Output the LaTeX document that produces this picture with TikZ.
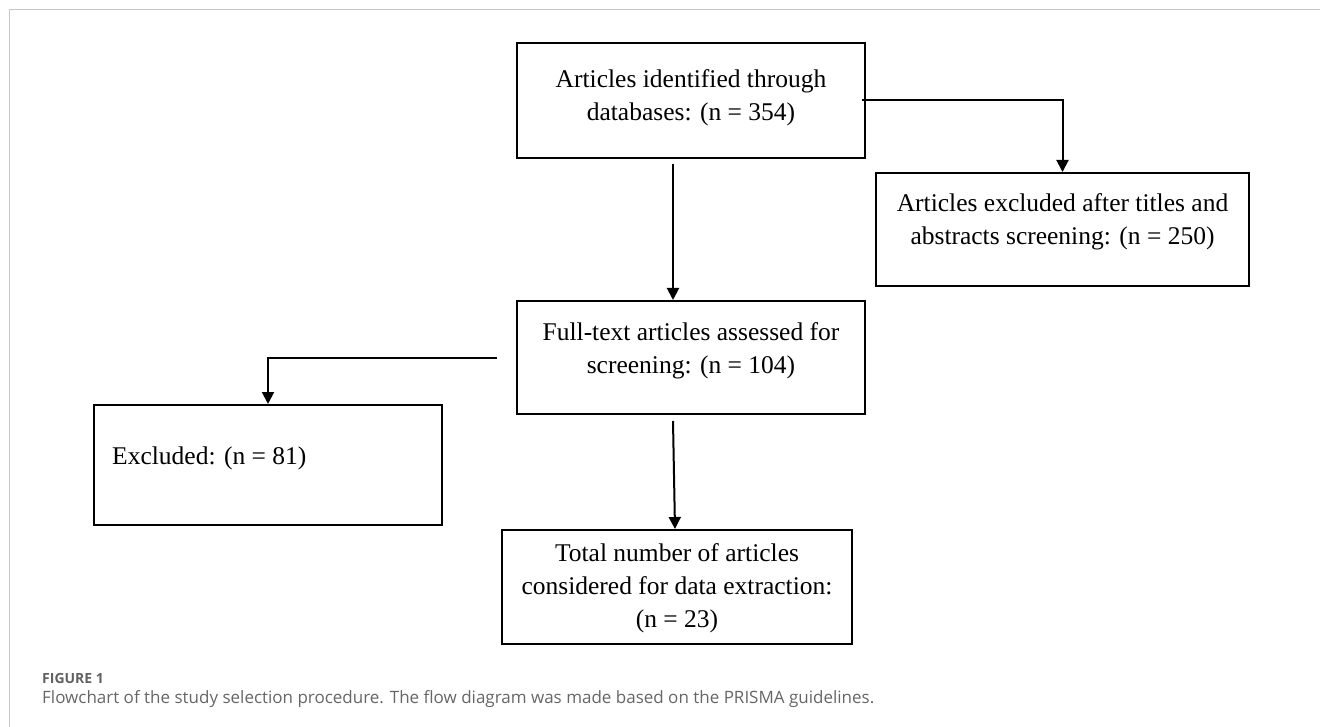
\documentclass[tikz,border=0pt]{standalone}
\usepackage{fontspec}
\setmainfont{Liberation Serif}
\newfontfamily\capfont{Open Sans}
\usetikzlibrary{arrows.meta}
\begin{document}
\begin{tikzpicture}[x=1pt,y=-1pt,
  box/.style={draw=black, line width=2pt, minimum width=348pt, minimum height=115pt, inner sep=0pt},
  txt/.style={font=\fontsize{25.5}{33}\selectfont, align=center, inner sep=0pt},
  arr/.style={draw=black, line width=2pt, -{Triangle[length=12pt,width=12pt]}},
  frameline/.style={draw=black!22, line width=1.5pt},
  figlab/.style={anchor=base west, inner sep=0pt, font=\capfont\bfseries\fontsize{14}{16}\selectfont, text=black!62},
  captxt/.style={anchor=base west, inner sep=0pt, font=\capfont\fontsize{17}{20}\selectfont, text=black!60}]
\useasboundingbox (0,0) rectangle (1320,727);
\draw[frameline] (1320,9.5) -- (9.5,9.5) -- (9.5,727);

% boxes
\node[box] (b1) at (691,100.5) {};
\node[box, minimum width=373pt, minimum height=113pt] (b2) at (1062.5,229.5) {};
\node[box, minimum height=113pt] (b3) at (691,357.5) {};
\node[box, minimum height=120pt] (b4) at (268,465) {};
\node[box, minimum width=350pt, minimum height=114pt] (b5) at (677,587) {};

% texts
\node[txt] (t1) at (691,98) {Articles identified through\\databases: (n = 354)};
\node[txt] (t2) at (1062.5,222) {Articles excluded after titles and\\abstracts screening: (n = 250)};
\node[txt] (t3) at (691,351) {Full-text articles assessed for\\screening: (n = 104)};
\node[txt, anchor=west] (t4) at (112,458) {Excluded: (n = 81)};
\node[txt] (t5) at (677,588) {Total number of articles\\considered for data extraction:\\(n = 23)};

% connectors
\draw[arr] ([xshift=-4pt]b1.east) -| (b2.north);
\draw[arr] ([xshift=-18pt,yshift=-5pt]b1.south) -- ([xshift=-18pt]b3.north);
\draw[arr] ([xshift=-19pt]b3.west) -| (b4.north);
\draw[arr] ([xshift=-18pt,yshift=-6pt]b3.south) -- ([xshift=-2pt]b5.north);

% caption
\node[figlab] (fig) at (42,683) {FIGURE 1};
\node[captxt] (cap) at (42,703.5) {Flowchart of the study selection procedure. The flow diagram was made based on the PRISMA guidelines.};
\end{tikzpicture}
\end{document}
